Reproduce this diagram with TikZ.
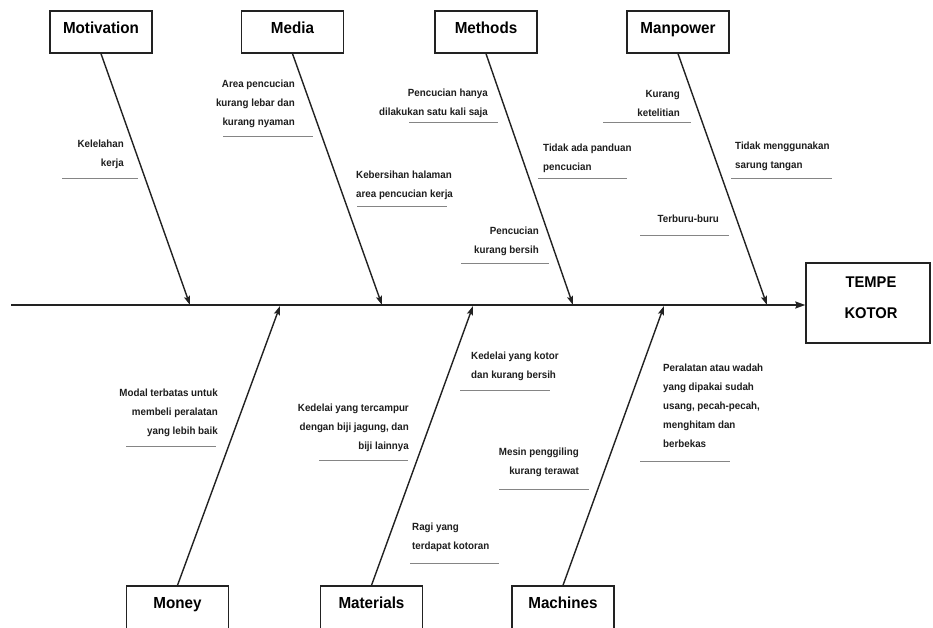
\documentclass[tikz,border=0pt]{standalone}
\usepackage{fontspec}
\setmainfont{Liberation Sans}
\newfontfamily\titlefont[FakeStretch=0.95]{Liberation Sans}
\newfontfamily\labfont[FakeStretch=0.94]{Liberation Sans}
\usetikzlibrary{arrows.meta}
\definecolor{linec}{HTML}{222222}
\definecolor{txtc}{HTML}{1E1E1E}
\definecolor{ulc}{HTML}{858585}
\tikzset{
  catbox/.style={draw=linec, line width=1.4pt, minimum width=102pt, minimum height=42pt,
    inner sep=0pt, text height=11pt, text depth=7pt, font=\titlefont\bfseries\fontsize{16}{18}\selectfont},
  catboxlow/.style={catbox, minimum height=48pt, text depth=13.6pt},
  headbox/.style={draw=linec, line width=1.4pt, minimum width=124pt, minimum height=80pt, inner sep=0pt},
  headtxt/.style={align=center, inner sep=0pt, font=\titlefont\bfseries\fontsize{15.5}{31}\selectfont},
  bone/.style={draw=linec, line width=1.4pt, -{Stealth[length=9pt,width=6pt,inset=1.5pt]}},
  spine/.style={draw=linec, line width=1.9pt, -{Stealth[length=10pt,width=7pt,inset=1.5pt]}},
  labR/.style={anchor=north east, align=right, inner sep=0pt, text=txtc,
    font=\labfont\bfseries\fontsize{10.4}{19}\selectfont},
  labL/.style={anchor=north west, align=left, inner sep=0pt, text=txtc,
    font=\labfont\bfseries\fontsize{10.4}{19}\selectfont},
  uline/.style={draw=ulc, line width=1pt}
}
\begin{document}
\begin{tikzpicture}[x=1pt,y=-1pt]
\useasboundingbox[fill=white] (0,0) rectangle (933,628);

% category boxes
\node[catbox] (motivation) at (101,32) {Motivation};
\node[catbox] (media) at (292.5,32) {Media};
\node[catbox] (methods) at (486,32) {Methods};
\node[catbox] (manpower) at (678,32) {Manpower};
\node[catboxlow] (money) at (177.5,610) {Money};
\node[catboxlow] (materials) at (371.5,610) {Materials};
\node[catboxlow] (machines) at (563,610) {Machines};

% head
\node[headbox] (head) at (868,303) {};
\node[headtxt] (headtext) at (871,297.5) {TEMPE\\KOTOR};

% spine
\coordinate (tail) at (11,305);
\draw[spine] (tail) -- (head.west |- tail);

% bone end points
\coordinate (pmot) at (190,305);
\coordinate (pmed) at (382,305);
\coordinate (pmet) at (573,305);
\coordinate (pman) at (767,305);
\coordinate (pmon) at (280,306);
\coordinate (pmat) at (473,306);
\coordinate (pmac) at (664,306);

\draw[bone] (motivation.south) -- (pmot);
\draw[bone] (media.south) -- (pmed);
\draw[bone] (methods.south) -- (pmet);
\draw[bone] (manpower.south) -- (pman);
\draw[bone] (money.north) -- (pmon);
\draw[bone] (materials.north) -- (pmat);
\draw[bone] (machines.north) -- (pmac);

% labels (top)
\node[labR] (l1) at (124,140) {Kelelahan\\kerja};
\node[labR] (l2) at (295,80) {Area pencucian\\kurang lebar dan\\kurang nyaman};
\node[labL] (l3) at (356,171) {Kebersihan halaman\\area pencucian kerja};
\node[labR] (l4) at (488,89) {Pencucian hanya\\dilakukan satu kali saja};
\node[labL] (l5) at (543,144) {Tidak ada panduan\\pencucian};
\node[labR] (l6) at (539,227) {Pencucian\\kurang bersih};
\node[labR] (l7) at (680,90) {Kurang\\ketelitian};
\node[labL] (l8) at (735,142) {Tidak menggunakan\\sarung tangan};
\node[labR] (l9) at (719,215) {Terburu-buru};

% labels (bottom)
\node[labR] (l10) at (218,389) {Modal terbatas untuk\\membeli peralatan\\yang lebih baik};
\node[labR] (l11) at (409,404) {Kedelai yang tercampur\\dengan biji jagung, dan\\biji lainnya};
\node[labL] (l12) at (471,352) {Kedelai yang kotor\\dan kurang bersih};
\node[labR] (l13) at (579,448) {Mesin penggiling\\kurang terawat};
\node[labL] (l14) at (412,523) {Ragi yang\\terdapat kotoran};
\node[labL] (l15) at (663,364) {Peralatan atau wadah\\yang dipakai sudah\\usang, pecah-pecah,\\menghitam dan\\berbekas};

% underlines
\draw[uline] (62,179) -- (138,179);
\draw[uline] (223,137) -- (313,137);
\draw[uline] (357,207) -- (447,207);
\draw[uline] (409,123) -- (498,123);
\draw[uline] (538,179) -- (627,179);
\draw[uline] (461,263) -- (549,263);
\draw[uline] (603,123) -- (691,123);
\draw[uline] (731,179) -- (832,179);
\draw[uline] (640,235) -- (729,235);
\draw[uline] (126,446) -- (216,446);
\draw[uline] (319,460) -- (408,460);
\draw[uline] (460,390) -- (550,390);
\draw[uline] (499,489) -- (589,489);
\draw[uline] (410,563) -- (499,563);
\draw[uline] (640,461) -- (730,461);
\end{tikzpicture}
\end{document}
